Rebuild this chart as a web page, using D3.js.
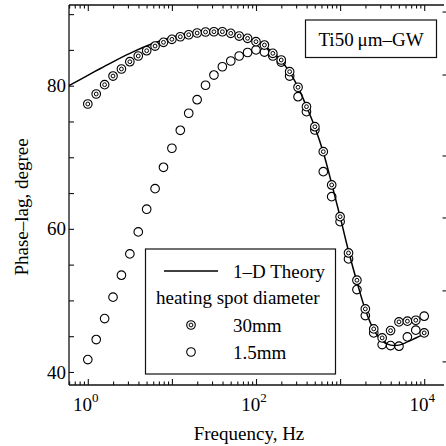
<!DOCTYPE html>
<html>
<head>
<meta charset="utf-8">
<script src="https://cdn.jsdelivr.net/npm/d3@7"></script>
<style>
  html, body { margin: 0; padding: 0; background: #fff; }
  svg { display: block; }
  text { font-family: "Liberation Serif", "Times New Roman", serif; fill: #000; }
</style>
</head>
<body>
<svg id="chart" width="446" height="446"></svg>
<script>
(function() {
// ---------------- data ----------------
const freq = [1, 1.259, 1.585, 1.995, 2.512, 3.162, 3.981, 5.012, 6.310, 7.943,
  10, 12.59, 15.85, 19.95, 25.12, 31.62, 39.81, 50.12, 63.10, 79.43,
  100, 125.9, 158.5, 199.5, 251.2, 316.2, 398.1, 501.2, 631.0, 794.3,
  1000, 1259, 1585, 1995, 2512, 3162, 3981, 5012, 6310, 7943, 10000];

const phase30mm = [77.44, 78.84, 80.14, 81.35, 82.33, 83.35, 84.15, 84.89, 85.54, 86.06,
  86.48, 86.84, 87.12, 87.36, 87.5, 87.54, 87.54, 87.32, 86.94, 86.62,
  86.15, 85.68, 84.52, 83.59, 81.96, 79.78, 77.07, 74.27, 70.78, 66.13,
  61.7, 56.63, 52.82, 48.81, 46.02, 44.76, 45.78, 47.0, 47.1, 47.23, 45.46];

const phase1_5mm = [41.73, 44.53, 47.46, 50.45, 53.52, 56.5, 59.57, 62.74, 65.61, 68.6,
  71.26, 73.77, 76.15, 78.04, 80.06, 81.49, 82.65, 83.45, 84.15, 84.64,
  85.0, 84.7, 84.15, 83.3, 81.35, 78.46, 76.37, 73.81, 67.99, 64.5,
  61.0, 55.8, 51.51, 47.88, 45.46, 43.83, 43.69, 43.6, 44.9, 45.84, 47.79];

const theoryFreq = [0.597, 1, 1.413, 2.239, 3.548, 5.623, 8.913, 14.13, 22.39, 35.48,
  50.12, 63.10, 79.43, 100, 125.9, 158.5, 199.5, 251.2, 316.2, 398.1,
  501.2, 631.0, 794.3, 1000, 1259, 1585, 1995, 2512, 3162, 3981,
  5012, 6310, 7943, 10000];
const theoryPhase = [80.0, 81.45, 82.4, 83.65, 84.8, 85.8, 86.6, 87.2, 87.55, 87.72,
  87.5, 87.05, 86.6, 86.15, 85.55, 84.6, 83.5, 81.9, 79.8, 77.1,
  74.2, 70.7, 66.3, 61.7, 56.9, 52.6, 48.7, 45.9, 44.3, 43.75,
  43.75, 44.2, 44.75, 45.3];

const yTickLabels = [40, 60, 80];
const yMinorTicks = [40, 45, 50, 55, 60, 65, 70, 75, 80, 85, 90];
const xMajorTicks = [1, 10, 100, 1000, 10000];
const xLabelExps = [0, 2, 4];
const rightDashValues = [90.29, 81.49, 70.18, 61.52, 51.33, 41.41];

const legendTitle = "Ti50\u2009\u03bcm\u2013GW";
const legendTheory = "1\u2013D Theory";
const legendHeader = "heating spot diameter";
const series1Name = "30mm";
const series2Name = "1.5mm";
const xTitle = "Frequency, Hz";
const yTitle = "Phase\u2013lag, degree";

// ---------------- layout ----------------
const L = 69, R = 444, T = 5, B = 385;
const svg = d3.select("#chart");

const x = d3.scaleLog().domain([Math.pow(10, -0.2235), Math.pow(10, 4.2354)]).range([L, R]);
const y = d3.scaleLinear().domain([38.18, 91.275]).range([B, T]);

const stroke = "#111";

const xMinor = [];
for (let d = -1; d <= 4; d++) {
  for (let m = 2; m <= 9; m++) {
    const v = m * Math.pow(10, d);
    if (v >= x.domain()[0] && v <= x.domain()[1]) xMinor.push(v);
  }
}

const gBottom = svg.append("g").attr("transform", `translate(0,${B})`)
  .call(d3.axisBottom(x).tickValues(xMajorTicks).tickSize(-6).tickFormat(""));
const gBottomMinor = svg.append("g").attr("transform", `translate(0,${B})`)
  .call(d3.axisBottom(x).tickValues(xMinor).tickSize(-3.5).tickFormat(""));
const gTop = svg.append("g").attr("transform", `translate(0,${T})`)
  .call(d3.axisTop(x).tickValues(xMajorTicks).tickSize(-6).tickFormat(""));
const gTopMinor = svg.append("g").attr("transform", `translate(0,${T})`)
  .call(d3.axisTop(x).tickValues(xMinor).tickSize(-3.5).tickFormat(""));
const gLeft = svg.append("g").attr("transform", `translate(${L},0)`)
  .call(d3.axisLeft(y).tickValues(yMinorTicks.filter(v => v >= y.domain()[0] && v <= y.domain()[1])).tickSize(-5).tickFormat(""));

[gBottom, gBottomMinor, gTop, gTopMinor, gLeft].forEach(g => {
  g.select(".domain").attr("stroke", stroke).attr("stroke-width", 1.3);
  g.selectAll(".tick line").attr("stroke", stroke).attr("stroke-width", 1.1);
});
[gBottomMinor, gTopMinor].forEach(g => g.select(".domain").remove());
gBottom.select(".domain").attr("d", `M${L},0H${R}`);
gTop.select(".domain").attr("d", `M${L},0H${R}`);
gLeft.select(".domain").attr("d", `M0,${T}V${B}`);

svg.append("g").selectAll("text").data(yTickLabels).join("text")
  .attr("x", L - 3).attr("y", d => y(d)).attr("dy", "0.35em")
  .attr("text-anchor", "end").attr("font-size", 19).text(d => d);

const xl = svg.append("g").selectAll("text").data(xLabelExps).join("text")
  .attr("x", d => x(Math.pow(10, d)) - 2).attr("y", 411)
  .attr("text-anchor", "middle").attr("font-size", 19);
xl.append("tspan").text("10");
xl.append("tspan").attr("dy", -9).attr("font-size", 13).text(d => d);

svg.append("g").selectAll("line").data(rightDashValues).join("line")
  .attr("x1", 442.5).attr("x2", 446).attr("y1", d => y(d)).attr("y2", d => y(d))
  .attr("stroke", stroke).attr("stroke-width", 1.1);

svg.append("text").attr("x", 249).attr("y", 440).attr("text-anchor", "middle")
  .attr("font-size", 19).text(xTitle);
svg.append("text").attr("transform", `translate(28,207) rotate(-90)`)
  .attr("text-anchor", "middle").attr("font-size", 19).text(yTitle);

const line = d3.line().x(d => x(d[0])).y(d => y(d[1])).curve(d3.curveCatmullRom.alpha(0.5));
svg.append("path").datum(theoryFreq.map((f, i) => [f, theoryPhase[i]]))
  .attr("d", line).attr("fill", "none").attr("stroke", "#000").attr("stroke-width", 1.5);

function doubleCircle(g) {
  g.append("circle").attr("r", 4.3).attr("fill", "#fff").attr("stroke", "#000").attr("stroke-width", 1.1);
  g.append("circle").attr("r", 1.9).attr("fill", "none").attr("stroke", "#000").attr("stroke-width", 1.0);
}
function openCircle(g) {
  g.append("circle").attr("r", 4.3).attr("fill", "none").attr("stroke", "#000").attr("stroke-width", 1.1);
}

svg.append("g").selectAll("g").data(freq.map((f, i) => [f, phase1_5mm[i]])).join("g")
  .attr("transform", d => `translate(${x(d[0])},${y(d[1])})`).each(function() { openCircle(d3.select(this)); });
svg.append("g").selectAll("g").data(freq.map((f, i) => [f, phase30mm[i]])).join("g")
  .attr("transform", d => `translate(${x(d[0])},${y(d[1])})`).each(function() { doubleCircle(d3.select(this)); });

svg.append("rect").attr("x", 305.5).attr("y", 20).attr("width", 131).attr("height", 37.5)
  .attr("fill", "#fff").attr("stroke", stroke).attr("stroke-width", 1.2);
svg.append("text").attr("x", 371).attr("y", 46).attr("text-anchor", "middle")
  .attr("font-size", 19).text(legendTitle);

const lg = svg.append("g");
lg.append("rect").attr("x", 145.5).attr("y", 249).attr("width", 190).attr("height", 125)
  .attr("fill", "#fff").attr("stroke", stroke).attr("stroke-width", 1.2);
lg.append("line").attr("x1", 164).attr("x2", 218).attr("y1", 271).attr("y2", 271)
  .attr("stroke", "#000").attr("stroke-width", 1.5);
lg.append("text").attr("x", 233).attr("y", 278).attr("font-size", 19).text(legendTheory);
lg.append("text").attr("x", 156).attr("y", 304).attr("font-size", 19).text(legendHeader);
const m1 = lg.append("g").attr("transform", "translate(191,325)"); doubleCircle(m1);
lg.append("text").attr("x", 233).attr("y", 332).attr("font-size", 19).text(series1Name);
const m2 = lg.append("g").attr("transform", "translate(191,352)"); openCircle(m2);
lg.append("text").attr("x", 233).attr("y", 359).attr("font-size", 19).text(series2Name);
})();
</script>
</body>
</html>
